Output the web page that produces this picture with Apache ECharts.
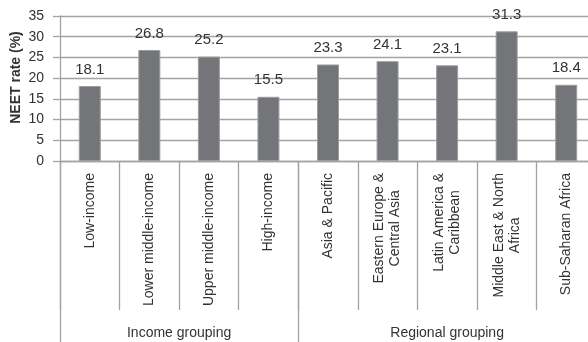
<!DOCTYPE html>
<html><head><meta charset="utf-8">
<script src="https://cdn.jsdelivr.net/npm/echarts@6/dist/echarts.min.js"></script>
<style>html,body{margin:0;padding:0;background:#fff}#c{width:588px;height:342px}</style>
</head><body><div id="c"></div>
<script>
const categories = ['Low-income', 'Lower middle-income', 'Upper middle-income', 'High-income',
  'Asia & Pacific', 'Eastern Europe &\nCentral Asia', 'Latin America &\nCaribbean',
  'Middle East & North\nAfrica', 'Sub-Saharan Africa'];
const neetRate = [18.1, 26.8, 25.2, 15.5, 23.3, 24.1, 23.1, 31.3, 18.4];
const groupNames = ['Income grouping', 'Regional grouping'];
const groupBounds = [0, 4, 9];
const yMin = 0, yMax = 35, yInterval = 5;
const yTitle = 'NEET rate (%)';

const groupCenters = groupNames.map((n, i) => (groupBounds[i] + groupBounds[i + 1]) / 2);
const FONT = "'Liberation Sans', Arial, sans-serif";
const GRID = '#a3a3a3';
const TXT = '#333';

const chart = echarts.init(document.getElementById('c'), null, {renderer: 'canvas'});
chart.setOption({
  animation: false,
  backgroundColor: '#fff',
  grid: {left: 60, right: -8, top: 16, bottom: 181, containLabel: false, outerBoundsMode: 'none'},
  xAxis: [{
    type: 'category',
    data: categories,
    axisLine: {show: true, lineStyle: {color: GRID, width: 1.3}},
    axisTick: {show: true, alignWithLabel: false, interval: 0, length: 149, lineStyle: {color: GRID, width: 1.3}},
    axisLabel: {
      interval: 0, rotate: 90, margin: 12, fontSize: 14, fontFamily: FONT, color: TXT,
      formatter: v => v.split('\n').map(s => '{c|' + s + '}').join('\n'),
      rich: {c: {align: 'center', fontSize: 14, fontFamily: FONT, color: TXT, lineHeight: 16}}
    },
    splitLine: {show: false}
  }, {
    type: 'value',
    position: 'bottom',
    min: groupBounds[0], max: groupBounds[groupBounds.length - 1],
    axisLine: {show: false},
    axisTick: {show: true, customValues: groupBounds, length: 190, lineStyle: {color: GRID, width: 1.3}},
    axisLabel: {
      customValues: groupCenters, margin: 165, fontSize: 14, fontFamily: FONT, color: TXT,
      formatter: v => groupNames[groupCenters.indexOf(v)] || ''
    },
    splitLine: {show: false}
  }],
  yAxis: {
    type: 'value',
    min: yMin, max: yMax, interval: yInterval,
    name: yTitle,
    nameLocation: 'middle',
    nameGap: 37,
    nameMoveOverlap: false,
    nameRotate: 90,
    nameTextStyle: {fontSize: 14, fontWeight: 'bold', fontFamily: FONT, color: TXT, padding: [0, 0, 0, 22]},
    axisLine: {show: true, lineStyle: {color: GRID, width: 1.3}},
    axisTick: {show: true, length: 7, lineStyle: {color: GRID, width: 1.3}},
    axisLabel: {margin: 16, fontSize: 14, fontFamily: FONT, color: TXT},
    splitLine: {show: true, lineStyle: {color: GRID, width: 1.3}}
  },
  series: [{
    type: 'bar',
    data: neetRate,
    barWidth: 22,
    itemStyle: {color: '#747578', borderColor: '#9c9da0', borderWidth: 1},
    label: {show: true, position: 'top', distance: 9, fontSize: 15, fontFamily: FONT, color: TXT}
  }]
});
</script></body></html>
